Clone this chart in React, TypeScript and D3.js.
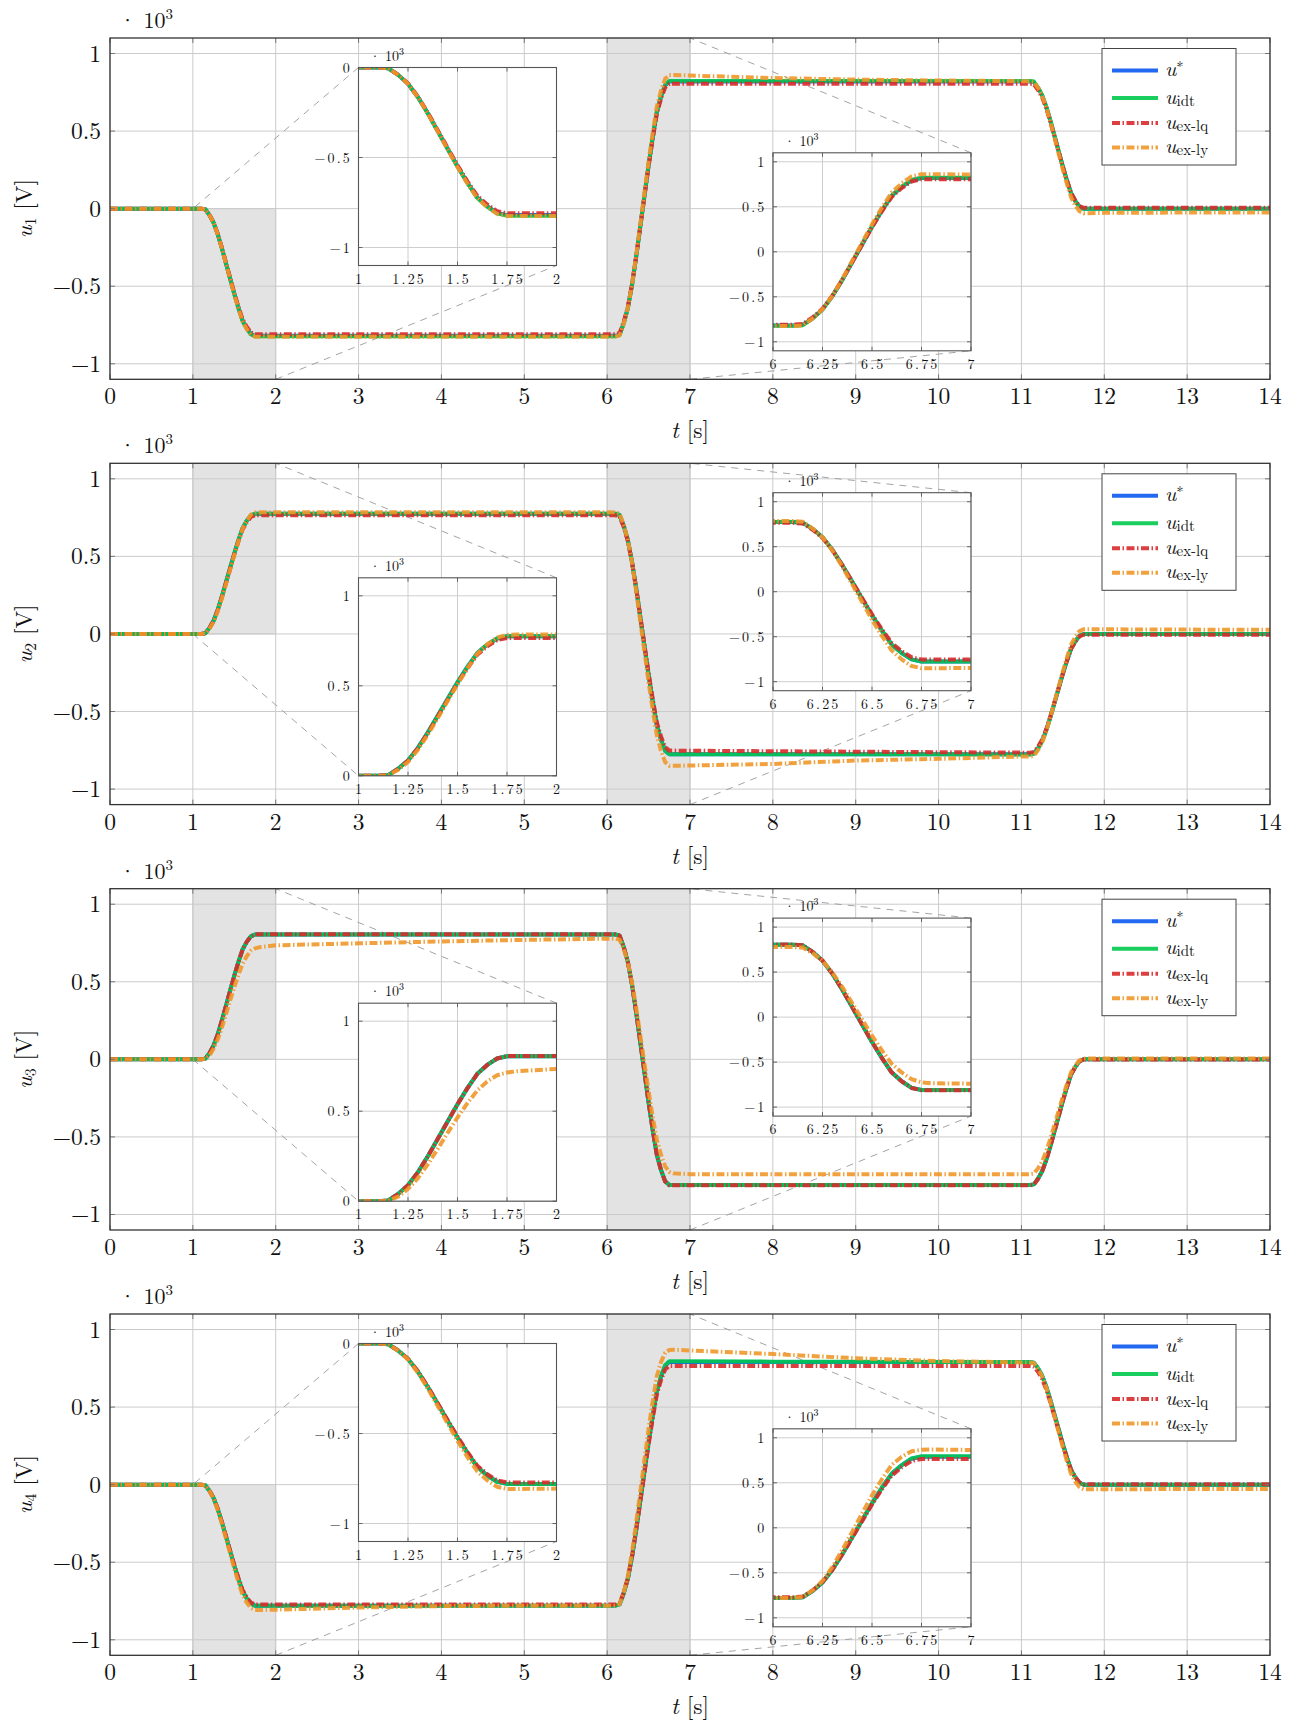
import React from 'react';
import * as d3 from 'd3';

// ---------- data (values in 10^3 V) ----------
const T = [0, 1, 1.1, 1.15, 1.2, 1.25, 1.3, 1.35, 1.4, 1.45, 1.5, 1.55, 1.6, 1.65, 1.7, 1.75, 1.8, 2, 3, 4, 5, 6,
  6.1, 6.15, 6.2, 6.25, 6.3, 6.35, 6.4, 6.45, 6.5, 6.55, 6.6, 6.65, 6.7, 6.75, 6.8, 7, 8, 9, 10, 11,
  11.1, 11.15, 11.2, 11.25, 11.3, 11.35, 11.4, 11.45, 11.5, 11.55, 11.6, 11.65, 11.7, 11.75, 11.8, 12, 13, 14];

const u1Star = [0, 0, 0, -0.004, -0.041, -0.090, -0.164, -0.254, -0.353, -0.451, -0.549, -0.640, -0.722, -0.771, -0.808, -0.82, -0.82, -0.82, -0.82, -0.82, -0.82, -0.82,
  -0.82, -0.812, -0.738, -0.640, -0.492, -0.312, -0.115, 0.082, 0.279, 0.459, 0.623, 0.722, 0.795, 0.82, 0.82, 0.82, 0.82, 0.82, 0.82, 0.82,
  0.82, 0.816, 0.779, 0.730, 0.656, 0.566, 0.467, 0.369, 0.271, 0.180, 0.098, 0.049, 0.012, 0, 0, 0, 0, 0];
const u1Idt = [0, 0, 0, -0.004, -0.041, -0.091, -0.165, -0.255, -0.354, -0.452, -0.550, -0.641, -0.724, -0.773, -0.810, -0.823, -0.823, -0.823, -0.823, -0.823, -0.823, -0.823,
  -0.823, -0.815, -0.741, -0.642, -0.494, -0.313, -0.115, 0.083, 0.280, 0.461, 0.625, 0.724, 0.798, 0.823, 0.823, 0.823, 0.823, 0.823, 0.823, 0.823,
  0.823, 0.819, 0.782, 0.732, 0.658, 0.568, 0.469, 0.370, 0.272, 0.181, 0.099, 0.049, 0.012, 0, 0, 0, 0, 0];
const u1Lq = [0, 0, 0, -0.004, -0.040, -0.089, -0.162, -0.251, -0.348, -0.446, -0.543, -0.632, -0.713, -0.761, -0.798, -0.81, -0.81, -0.81, -0.81, -0.81, -0.81, -0.81,
  -0.81, -0.802, -0.729, -0.632, -0.487, -0.309, -0.116, 0.078, 0.272, 0.450, 0.611, 0.708, 0.781, 0.805, 0.805, 0.805, 0.805, 0.805, 0.805, 0.805,
  0.805, 0.801, 0.765, 0.717, 0.645, 0.557, 0.461, 0.365, 0.269, 0.181, 0.101, 0.053, 0.017, 0.005, 0.005, 0.005, 0.005, 0.005];
const u1Ly = [0, 0, 0, -0.004, -0.041, -0.091, -0.165, -0.256, -0.355, -0.454, -0.553, -0.644, -0.726, -0.776, -0.813, -0.825, -0.825, -0.825, -0.825, -0.825, -0.825, -0.825,
  -0.825, -0.817, -0.741, -0.639, -0.488, -0.302, -0.100, 0.103, 0.305, 0.491, 0.660, 0.761, 0.837, 0.862, 0.862, 0.858, 0.842, 0.832, 0.826, 0.822,
  0.822, 0.818, 0.779, 0.728, 0.652, 0.558, 0.456, 0.353, 0.251, 0.157, 0.072, 0.021, -0.017, -0.03, -0.03, -0.027, -0.025, -0.025];

const u2Star = [0, 0, 0, 0.004, 0.039, 0.085, 0.155, 0.240, 0.333, 0.426, 0.519, 0.605, 0.682, 0.729, 0.763, 0.775, 0.775, 0.775, 0.775, 0.775, 0.775, 0.775,
  0.775, 0.767, 0.698, 0.605, 0.465, 0.295, 0.109, -0.078, -0.264, -0.434, -0.589, -0.682, -0.752, -0.775, -0.775, -0.775, -0.775, -0.775, -0.775, -0.775,
  -0.775, -0.771, -0.736, -0.690, -0.620, -0.535, -0.442, -0.349, -0.256, -0.171, -0.093, -0.047, -0.012, 0, 0, 0, 0, 0];
const u2Idt = [0, 0, 0, 0.004, 0.039, 0.085, 0.155, 0.240, 0.333, 0.426, 0.519, 0.605, 0.682, 0.729, 0.763, 0.775, 0.775, 0.775, 0.775, 0.775, 0.775, 0.775,
  0.775, 0.767, 0.698, 0.605, 0.465, 0.295, 0.109, -0.078, -0.264, -0.434, -0.589, -0.682, -0.752, -0.775, -0.775, -0.775, -0.775, -0.776, -0.776, -0.777,
  -0.777, -0.773, -0.738, -0.691, -0.621, -0.536, -0.443, -0.350, -0.256, -0.171, -0.093, -0.047, -0.012, 0, 0, 0, 0, 0];
const u2Lq = [0, 0, 0, 0.004, 0.038, 0.084, 0.153, 0.237, 0.329, 0.421, 0.513, 0.597, 0.673, 0.719, 0.754, 0.765, 0.765, 0.765, 0.765, 0.765, 0.765, 0.765,
  0.765, 0.757, 0.689, 0.598, 0.462, 0.295, 0.113, -0.069, -0.251, -0.418, -0.570, -0.661, -0.729, -0.752, -0.752, -0.753, -0.756, -0.759, -0.762, -0.765,
  -0.765, -0.761, -0.727, -0.681, -0.613, -0.529, -0.438, -0.347, -0.256, -0.172, -0.096, -0.051, -0.016, -0.005, -0.005, -0.005, -0.005, -0.005];
const u2Ly = [0, 0, 0, 0.003, 0.033, 0.077, 0.145, 0.228, 0.320, 0.415, 0.508, 0.597, 0.678, 0.730, 0.768, 0.783, 0.785, 0.785, 0.785, 0.785, 0.785, 0.785,
  0.785, 0.777, 0.703, 0.605, 0.458, 0.278, 0.082, -0.114, -0.311, -0.491, -0.654, -0.752, -0.826, -0.85, -0.85, -0.848, -0.838, -0.816, -0.805, -0.79,
  -0.79, -0.786, -0.749, -0.700, -0.626, -0.536, -0.437, -0.339, -0.241, -0.150, -0.068, -0.019, 0.018, 0.03, 0.03, 0.03, 0.028, 0.027];

const u3Star = [0, 0, 0, 0.004, 0.040, 0.089, 0.161, 0.250, 0.346, 0.443, 0.539, 0.628, 0.708, 0.757, 0.793, 0.805, 0.805, 0.805, 0.805, 0.805, 0.805, 0.805,
  0.805, 0.797, 0.724, 0.627, 0.482, 0.304, 0.111, -0.083, -0.277, -0.455, -0.616, -0.713, -0.786, -0.81, -0.81, -0.81, -0.81, -0.81, -0.81, -0.81,
  -0.81, -0.806, -0.770, -0.721, -0.648, -0.559, -0.462, -0.365, -0.267, -0.178, -0.097, -0.049, -0.012, 0, 0, 0, 0, 0];
const u3Idt = [0, 0, 0, 0.004, 0.040, 0.089, 0.161, 0.250, 0.346, 0.443, 0.539, 0.628, 0.708, 0.757, 0.793, 0.805, 0.805, 0.805, 0.805, 0.805, 0.805, 0.805,
  0.805, 0.797, 0.724, 0.627, 0.482, 0.304, 0.111, -0.083, -0.277, -0.455, -0.616, -0.713, -0.786, -0.81, -0.81, -0.81, -0.81, -0.81, -0.81, -0.81,
  -0.81, -0.806, -0.770, -0.721, -0.648, -0.559, -0.462, -0.365, -0.267, -0.178, -0.097, -0.049, -0.012, 0, 0, 0, 0, 0];
const u3Lq = [0, 0, 0, 0.004, 0.039, 0.088, 0.160, 0.249, 0.345, 0.442, 0.538, 0.627, 0.707, 0.757, 0.793, 0.806, 0.806, 0.806, 0.806, 0.806, 0.806, 0.806,
  0.806, 0.798, 0.725, 0.628, 0.483, 0.305, 0.112, -0.082, -0.276, -0.455, -0.616, -0.714, -0.787, -0.812, -0.812, -0.812, -0.812, -0.812, -0.812, -0.812,
  -0.812, -0.808, -0.771, -0.722, -0.649, -0.560, -0.463, -0.366, -0.268, -0.179, -0.098, -0.050, -0.013, -0.001, -0.001, -0.001, -0.001, -0.001];
const u3Ly = [0, 0, 0, 0.002, 0.025, 0.068, 0.128, 0.205, 0.290, 0.380, 0.465, 0.545, 0.615, 0.665, 0.700, 0.715, 0.722, 0.735, 0.748, 0.760, 0.770, 0.778,
  0.778, 0.772, 0.710, 0.625, 0.495, 0.335, 0.155, -0.025, -0.205, -0.370, -0.520, -0.615, -0.690, -0.725, -0.735, -0.740, -0.740, -0.740, -0.740, -0.740,
  -0.740, -0.736, -0.703, -0.658, -0.591, -0.509, -0.420, -0.330, -0.240, -0.158, -0.084, -0.040, -0.006, 0.005, 0.005, 0.005, 0.005, 0.005];

const u4Star = [0, 0, 0, -0.004, -0.039, -0.086, -0.156, -0.242, -0.335, -0.429, -0.523, -0.608, -0.686, -0.733, -0.768, -0.78, -0.78, -0.78, -0.78, -0.78, -0.78, -0.78,
  -0.78, -0.772, -0.702, -0.607, -0.466, -0.293, -0.105, 0.084, 0.272, 0.445, 0.602, 0.696, 0.767, 0.79, 0.79, 0.79, 0.79, 0.79, 0.79, 0.79,
  0.79, 0.786, 0.751, 0.703, 0.632, 0.545, 0.450, 0.356, 0.261, 0.174, 0.095, 0.047, 0.012, 0, 0, 0, 0, 0];
const u4Idt = [0, 0, 0, -0.004, -0.039, -0.086, -0.156, -0.242, -0.335, -0.429, -0.523, -0.608, -0.686, -0.733, -0.768, -0.78, -0.78, -0.78, -0.78, -0.78, -0.78, -0.78,
  -0.78, -0.772, -0.702, -0.607, -0.466, -0.293, -0.105, 0.084, 0.272, 0.445, 0.602, 0.697, 0.770, 0.795, 0.795, 0.795, 0.793, 0.792, 0.791, 0.79,
  0.79, 0.786, 0.751, 0.703, 0.632, 0.545, 0.450, 0.356, 0.261, 0.174, 0.095, 0.047, 0.012, 0, 0, 0, 0, 0];
const u4Lq = [0, 0, 0, -0.004, -0.039, -0.085, -0.154, -0.239, -0.332, -0.425, -0.517, -0.602, -0.679, -0.726, -0.760, -0.772, -0.772, -0.772, -0.772, -0.772, -0.772, -0.772,
  -0.772, -0.764, -0.695, -0.603, -0.465, -0.296, -0.111, 0.073, 0.258, 0.427, 0.581, 0.673, 0.742, 0.765, 0.765, 0.765, 0.765, 0.765, 0.765, 0.765,
  0.765, 0.761, 0.727, 0.681, 0.613, 0.529, 0.437, 0.346, 0.254, 0.170, 0.094, 0.049, 0.014, 0.003, 0.003, 0.003, 0.003, 0.003];
const u4Ly = [0, 0, 0, -0.004, -0.040, -0.089, -0.162, -0.250, -0.347, -0.444, -0.541, -0.630, -0.711, -0.760, -0.796, -0.808, -0.808, -0.806, -0.792, -0.783, -0.780, -0.780,
  -0.780, -0.770, -0.695, -0.590, -0.435, -0.245, -0.045, 0.160, 0.360, 0.540, 0.700, 0.790, 0.850, 0.868, 0.870, 0.865, 0.842, 0.815, 0.797, 0.788,
  0.788, 0.784, 0.747, 0.698, 0.624, 0.534, 0.436, 0.338, 0.240, 0.150, 0.068, 0.019, -0.015, -0.030, -0.030, -0.030, -0.028, -0.028];

const xTicksMain = [0, 1, 2, 3, 4, 5, 6, 7, 8, 9, 10, 11, 12, 13, 14];
const yTicksMain = [-1, -0.5, 0, 0.5, 1];
const insetATicksX = [1, 1.25, 1.5, 1.75, 2];
const insetBTicksX = [6, 6.25, 6.5, 6.75, 7];
const insetTicksNeg = [-1, -0.5, 0];
const insetTicksPos = [0, 0.5, 1];
const insetTicksFull = [-1, -0.5, 0, 0.5, 1];
const legendLabels = [['∗', 'sup'], ['idt', 'sub'], ['ex-lq', 'sub'], ['ex-ly', 'sub']];

// ---------- styling / layout ----------
const FONT = "'Latin Modern Roman','CMU Serif','Liberation Serif','DejaVu Serif',serif";
const STYLES = [
  { color: '#0a58f0', dash: undefined as string | undefined },
  { color: '#00c84e', dash: undefined as string | undefined },
  { color: '#d82a2a', dash: '8 2.5 1.5 2.5' },
  { color: '#f0982a', dash: '8 2.5 1.5 2.5' },
];
const LW = 4;
const PL = 110, PR = 1270, PH = 341.3;
const TOPS = [38, 463.3, 888.7, 1314];
const INS = 198;

const PANELS = [
  { sub: '1', data: [u1Star, u1Idt, u1Lq, u1Ly], aDom: [-1.1, 0], aTicks: insetTicksNeg, aTop: 29.5, bTop: 114.8 },
  { sub: '2', data: [u2Star, u2Idt, u2Lq, u2Ly], aDom: [0, 1.1], aTicks: insetTicksPos, aTop: 114.5, bTop: 29.4 },
  { sub: '3', data: [u3Star, u3Idt, u3Lq, u3Ly], aDom: [0, 1.1], aTicks: insetTicksPos, aTop: 114.5, bTop: 29.4 },
  { sub: '4', data: [u4Star, u4Idt, u4Lq, u4Ly], aDom: [-1.1, 0], aTicks: insetTicksNeg, aTop: 29.5, bTop: 114.8 },
];

const fmt = (v: number) => (v < 0 ? '\u2212' : '') + String(Math.abs(v));

function Curves({ data, x, y }: { data: number[][]; x: any; y: any }) {
  const line = d3.line<number>().x((_, i) => x(T[i])).y((v) => y(v));
  return (
    <g>
      {data.map((vals, k) => (
        <path key={k} d={line(vals) || ''} fill="none" stroke={STYLES[k].color} strokeWidth={LW}
          strokeDasharray={STYLES[k].dash} strokeLinejoin="round" strokeLinecap={STYLES[k].dash ? 'butt' : 'round'}
          strokeOpacity={0.9} />
      ))}
    </g>
  );
}

function Inset({ id, left, top, xd, yd, xticks, yticks, data }: any) {
  const x = d3.scaleLinear().domain(xd).range([left, left + INS]);
  const y = d3.scaleLinear().domain(yd).range([top + INS, top]);
  const tl = 4;
  return (
    <g>
      <defs>
        <clipPath id={id}><rect x={left} y={top} width={INS} height={INS} /></clipPath>
      </defs>
      <rect x={left} y={top} width={INS} height={INS} fill="#fff" />
      {xticks.map((t: number) => (
        <line key={'gx' + t} x1={x(t)} x2={x(t)} y1={top} y2={top + INS} stroke="#c8c8c8" strokeWidth={0.9} />
      ))}
      {yticks.map((t: number) => (
        <line key={'gy' + t} x1={left} x2={left + INS} y1={y(t)} y2={y(t)} stroke="#c8c8c8" strokeWidth={0.9} />
      ))}
      <g clipPath={`url(#${id})`}>
        <Curves data={data} x={x} y={y} />
      </g>
      {xticks.map((t: number) => (
        <g key={'tx' + t}>
          <line x1={x(t)} x2={x(t)} y1={top + INS} y2={top + INS - tl} stroke="#666" />
          <line x1={x(t)} x2={x(t)} y1={top} y2={top + tl} stroke="#666" />
        </g>
      ))}
      {yticks.map((t: number) => (
        <g key={'ty' + t}>
          <line x1={left} x2={left + tl} y1={y(t)} y2={y(t)} stroke="#666" />
          <line x1={left + INS} x2={left + INS - tl} y1={y(t)} y2={y(t)} stroke="#666" />
        </g>
      ))}
      <rect x={left} y={top} width={INS} height={INS} fill="none" stroke="#555" strokeWidth={1.1} />
      {xticks.map((t: number) => (
        <text key={'lx' + t} x={x(t) + 1.2} y={top + INS + 18} fontSize={14} letterSpacing={2.2} textAnchor="middle" fill="#111">{fmt(t)}</text>
      ))}
      {yticks.map((t: number) => (
        <text key={'ly' + t} x={left - 6.5} y={y(t) + 5} fontSize={14} letterSpacing={2.2} textAnchor="end" fill="#111">{fmt(t)}</text>
      ))}
      <text x={left + 11} y={top - 7} fontSize={14} fill="#111">
        <tspan>· 10</tspan><tspan fontSize={10} dy={-6}>3</tspan>
      </text>
    </g>
  );
}

function connectors(rect: number[][], inset: number[][]) {
  const all = [...rect, ...inset];
  const hull = d3.polygonHull(all as [number, number][]) || [];
  const rs = new Set(rect);
  const out: number[][][] = [];
  for (let i = 0; i < hull.length; i++) {
    const a = hull[i], b = hull[(i + 1) % hull.length];
    if (rs.has(a as any) !== rs.has(b as any)) out.push([a, b]);
  }
  return out;
}

function Panel({ idx }: { idx: number }) {
  const p = PANELS[idx];
  const top = TOPS[idx];
  const bottom = top + PH;
  const x = d3.scaleLinear().domain([0, 14]).range([PL, PR]);
  const y = d3.scaleLinear().domain([-1.1, 1.1]).range([bottom, top]);
  const clip = 'main' + idx;
  const regions = [
    { xd: [1, 2], yd: p.aDom, left: 358.5, itop: top + p.aTop, xt: insetATicksX, yt: p.aTicks },
    { xd: [6, 7], yd: [-1.1, 1.1], left: 773, itop: top + p.bTop, xt: insetBTicksX, yt: insetTicksFull },
  ];
  const tl = 5;
  const ly = top + 10.5;
  const rows = [22, 49.5, 74.5, 99];
  return (
    <g>
      <defs>
        <clipPath id={clip}><rect x={PL} y={top} width={PR - PL} height={PH} /></clipPath>
      </defs>
      {regions.map((r, k) => (
        <rect key={'sh' + k} x={x(r.xd[0])} y={y(r.yd[1])} width={x(r.xd[1]) - x(r.xd[0])}
          height={y(r.yd[0]) - y(r.yd[1])} fill="#e3e3e3" stroke="#bdbdbd" strokeWidth={0.8} />
      ))}
      {xTicksMain.map((t) => (
        <line key={'gx' + t} x1={x(t)} x2={x(t)} y1={top} y2={bottom} stroke="#cbcbcb" strokeWidth={1} />
      ))}
      {yTicksMain.map((t) => (
        <line key={'gy' + t} x1={PL} x2={PR} y1={y(t)} y2={y(t)} stroke="#cbcbcb" strokeWidth={1} />
      ))}
      {regions.map((r, k) => {
        const rc = [[x(r.xd[0]), y(r.yd[1])], [x(r.xd[1]), y(r.yd[1])], [x(r.xd[1]), y(r.yd[0])], [x(r.xd[0]), y(r.yd[0])]];
        const ic = [[r.left, r.itop], [r.left + INS, r.itop], [r.left + INS, r.itop + INS], [r.left, r.itop + INS]];
        return connectors(rc, ic).map((seg, j) => (
          <line key={'c' + k + j} x1={seg[0][0]} y1={seg[0][1]} x2={seg[1][0]} y2={seg[1][1]}
            stroke="#9a9a9a" strokeWidth={0.9} strokeDasharray="7 6" />
        ));
      })}
      <g clipPath={`url(#${clip})`}>
        <Curves data={p.data} x={x} y={y} />
      </g>
      {xTicksMain.map((t) => (
        <g key={'tx' + t}>
          <line x1={x(t)} x2={x(t)} y1={bottom} y2={bottom - tl} stroke="#777" />
          <line x1={x(t)} x2={x(t)} y1={top} y2={top + tl} stroke="#777" />
        </g>
      ))}
      {yTicksMain.map((t) => (
        <g key={'ty' + t}>
          <line x1={PL} x2={PL + tl} y1={y(t)} y2={y(t)} stroke="#777" />
          <line x1={PR} x2={PR - tl} y1={y(t)} y2={y(t)} stroke="#777" />
        </g>
      ))}
      <rect x={PL} y={top} width={PR - PL} height={PH} fill="none" stroke="#333" strokeWidth={1.3} />
      {xTicksMain.map((t) => (
        <text key={'lx' + t} x={x(t)} y={bottom + 25} fontSize={23.5} textAnchor="middle" fill="#111">{fmt(t)}</text>
      ))}
      {yTicksMain.map((t) => (
        <text key={'ly' + t} x={PL - 9} y={y(t) + 8} fontSize={23.5} textAnchor="end" fill="#111">{fmt(t)}</text>
      ))}
      <text x={119} y={top - 10} fontSize={22} fill="#111">
        <tspan>· 10</tspan><tspan fontSize={15} dy={-9}>3</tspan>
      </text>
      <text transform={`translate(32,${(top + bottom) / 2}) rotate(-90)`} fontSize={23.5} textAnchor="middle" fill="#111">
        <tspan fontStyle="italic">u</tspan><tspan fontSize={16} dy={4}>{p.sub}</tspan><tspan dy={-4}> [V]</tspan>
      </text>
      <text x={x(7)} y={bottom + 59} fontSize={23.5} textAnchor="middle" fill="#111">
        <tspan fontStyle="italic">t</tspan><tspan> [s]</tspan>
      </text>
      {regions.map((r, k) => (
        <Inset key={'in' + k} id={`ins${idx}_${k}`} left={r.left} top={r.itop} xd={r.xd} yd={r.yd}
          xticks={r.xt} yticks={r.yt} data={p.data} />
      ))}
      <rect x={1102} y={ly} width={134} height={116.5} fill="#fff" stroke="#444" strokeWidth={1} />
      {rows.map((dy, k) => (
        <g key={'lg' + k}>
          <line x1={1112} x2={1158} y1={ly + dy} y2={ly + dy} stroke={STYLES[k].color} strokeWidth={LW}
            strokeDasharray={STYLES[k].dash} strokeOpacity={0.9} />
          <text x={1165} y={ly + dy + 5.5} fontSize={21} fontStyle="italic" fill="#111">u</text>
          {legendLabels[k][1] === 'sup'
            ? <text x={1176.5} y={ly + dy - 3} fontSize={14} fill="#111">{legendLabels[k][0]}</text>
            : <text x={1176.5} y={ly + dy + 7.5} fontSize={15} fill="#111">{legendLabels[k][0]}</text>}
        </g>
      ))}
    </g>
  );
}

export default function App() {
  return (
    <svg width={1303} height={1723} style={{ position: 'absolute', left: 0, top: 0, fontFamily: FONT, background: '#fff' }}>
      <rect x={0} y={0} width={1303} height={1723} fill="#fff" />
      {PANELS.map((_, i) => <Panel key={i} idx={i} />)}
    </svg>
  );
}
